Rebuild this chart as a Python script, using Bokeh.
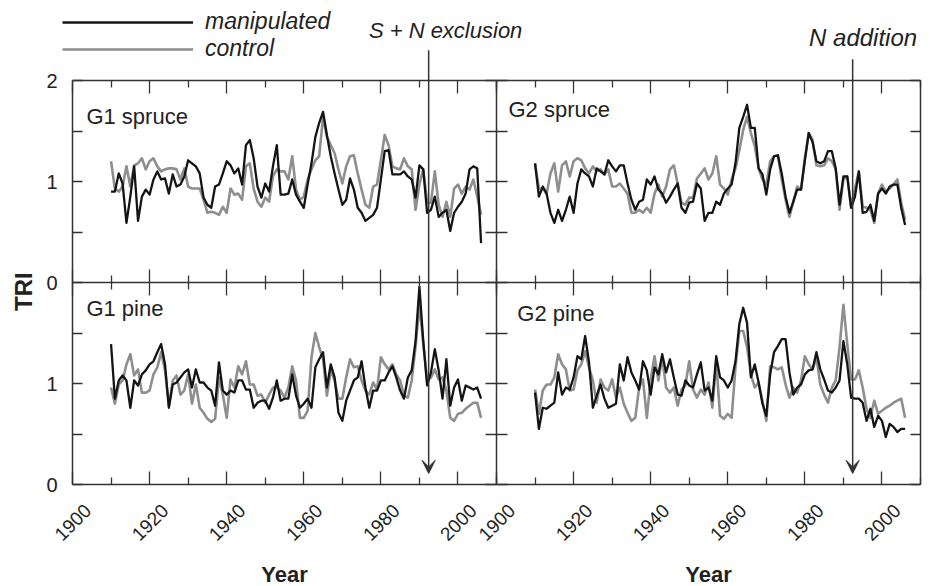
import math
from bokeh.plotting import figure
from bokeh.models import (Range1d, LinearAxis, FixedTicker, CustomJSTickFormatter, Label,
                          Arrow, VeeHead, Legend, LegendItem)
from bokeh.embed import file_html
from bokeh.resources import INLINE

# ---------------- data ----------------
years = list(range(1910, 2007))

g1_spruce_manip = [0.90, 0.90, 1.08, 0.98, 0.59, 0.85, 1.15, 0.61, 0.85, 0.92,
                   0.87, 1.02, 1.10, 1.02, 1.03, 0.88, 1.07, 0.95, 0.97, 1.05,
                   1.21, 1.18, 1.15, 1.08, 0.84, 0.77, 0.74, 0.95, 0.97, 1.08,
                   1.20, 1.16, 1.08, 1.13, 0.97, 1.36, 1.41, 1.23, 0.95, 0.84,
                   0.98, 0.90, 1.15, 1.36, 0.87, 0.87, 0.88, 1.02, 0.87, 0.80,
                   0.74, 0.97, 1.18, 1.44, 1.58, 1.69, 1.46, 1.25, 1.08, 0.92,
                   0.77, 0.82, 1.03, 0.92, 0.74, 0.69, 0.61, 0.64, 0.67, 0.74,
                   1.02, 1.30, 1.31, 1.07, 1.07, 1.07, 1.10, 1.05, 1.02, 0.84,
                   1.16, 1.12, 0.69, 0.72, 0.85, 0.65, 0.69, 0.72, 0.51, 0.69,
                   0.75, 0.80, 0.88, 1.12, 1.15, 1.13, 0.39]
g1_spruce_ctrl = [1.20, 0.93, 0.90, 0.95, 1.15, 0.95, 1.16, 1.18, 1.23, 1.12,
                  1.20, 1.23, 1.15, 1.10, 1.12, 1.13, 1.13, 1.12, 1.02, 1.13,
                  0.95, 0.93, 0.93, 0.93, 0.82, 0.69, 0.70, 0.69, 0.67, 0.75,
                  0.69, 0.93, 0.87, 0.88, 0.82, 1.15, 1.18, 0.93, 0.80, 0.75,
                  0.84, 0.80, 1.05, 1.12, 1.10, 1.10, 1.02, 1.25, 0.92, 0.82,
                  0.85, 1.02, 1.12, 1.21, 1.25, 1.64, 1.44, 1.36, 1.28, 1.12,
                  0.98, 1.15, 1.25, 1.26, 1.08, 0.92, 0.77, 0.74, 0.95, 0.97,
                  1.21, 1.46, 1.36, 1.15, 1.13, 1.12, 1.23, 1.15, 1.12, 0.72,
                  0.97, 1.12, 0.79, 0.79, 1.10, 0.77, 0.65, 0.80, 0.65, 0.93,
                  0.97, 0.88, 0.95, 0.92, 1.02, 0.85, 0.67]
g2_spruce_manip = [1.18, 0.85, 0.95, 0.88, 0.69, 0.59, 0.72, 0.61, 0.72, 0.85,
                   0.69, 0.98, 1.12, 1.08, 1.05, 0.95, 1.13, 1.10, 1.07, 1.21,
                   1.15, 1.10, 1.16, 1.16, 0.98, 0.82, 0.72, 0.80, 0.82, 1.02,
                   0.97, 1.05, 0.92, 0.88, 0.79, 0.85, 0.92, 0.98, 0.74, 0.69,
                   0.79, 0.80, 0.98, 0.93, 0.61, 0.69, 0.69, 0.80, 0.77, 0.88,
                   0.93, 0.97, 1.18, 1.53, 1.64, 1.76, 1.53, 1.53, 1.13, 1.07,
                   0.87, 1.12, 1.25, 1.26, 1.08, 0.85, 0.69, 0.80, 0.92, 0.92,
                   1.21, 1.48, 1.39, 1.20, 1.18, 1.20, 1.30, 1.30, 1.13, 0.77,
                   1.05, 1.05, 0.74, 0.85, 1.10, 0.69, 0.70, 0.77, 0.61, 0.88,
                   0.93, 0.88, 0.95, 0.97, 0.97, 0.74, 0.57]
g2_spruce_ctrl = [1.18, 0.93, 0.93, 0.88, 1.08, 1.18, 0.90, 1.16, 1.20, 1.05,
                  1.20, 1.23, 1.21, 1.13, 1.08, 1.15, 1.10, 1.12, 1.07, 1.12,
                  0.95, 0.95, 0.98, 0.93, 0.88, 0.69, 0.69, 0.72, 0.69, 0.74,
                  0.69, 0.88, 0.97, 0.85, 0.95, 1.12, 1.16, 0.98, 0.79, 0.77,
                  0.84, 0.84, 1.03, 1.08, 1.13, 1.02, 1.08, 1.25, 0.97, 0.93,
                  0.87, 1.02, 1.13, 1.31, 1.51, 1.64, 1.48, 1.35, 1.13, 1.02,
                  0.97, 1.20, 1.25, 1.26, 1.02, 0.82, 0.65, 0.80, 0.95, 0.92,
                  1.23, 1.48, 1.41, 1.16, 1.15, 1.16, 1.23, 1.20, 1.12, 0.72,
                  1.02, 1.05, 0.75, 0.93, 1.10, 0.75, 0.74, 0.72, 0.59, 0.88,
                  0.97, 0.90, 0.93, 0.97, 1.02, 0.79, 0.62]
g1_pine_manip = [1.39, 0.85, 1.03, 1.08, 1.03, 0.76, 1.03, 0.98, 1.09, 1.13,
                 1.19, 1.22, 1.31, 1.39, 1.19, 0.76, 0.99, 1.01, 1.06, 1.11,
                 1.14, 0.96, 1.14, 1.01, 1.01, 0.96, 0.93, 0.78, 1.21, 0.93,
                 0.89, 0.93, 0.91, 1.03, 1.03, 0.94, 0.94, 0.76, 0.81, 0.83,
                 0.83, 0.75, 0.86, 1.03, 0.83, 0.85, 0.85, 1.09, 0.88, 0.76,
                 0.80, 0.85, 0.76, 1.16, 1.24, 1.31, 0.96, 1.19, 1.06, 0.71,
                 0.63, 0.83, 0.93, 1.03, 1.06, 1.22, 0.96, 0.76, 0.93, 0.93,
                 1.03, 1.03, 1.11, 1.17, 1.06, 0.93, 0.85, 1.06, 1.13, 1.42,
                 1.96, 1.42, 0.98, 1.11, 1.34, 1.13, 0.85, 1.24, 0.78, 0.96,
                 1.04, 0.83, 0.98, 0.96, 0.94, 0.96, 0.85]
g1_pine_ctrl = [0.96, 0.80, 0.99, 1.03, 1.19, 1.29, 1.08, 1.14, 0.91, 0.91,
                0.93, 1.09, 1.16, 1.31, 1.13, 0.78, 1.03, 1.08, 0.89, 0.93,
                1.09, 0.80, 0.99, 0.76, 0.71, 0.65, 0.62, 0.65, 1.06, 0.89,
                0.66, 1.04, 0.96, 1.17, 1.09, 1.22, 0.99, 0.99, 0.88, 0.89,
                0.81, 0.89, 0.96, 0.96, 0.93, 0.86, 0.96, 1.17, 1.03, 0.66,
                0.66, 0.73, 1.26, 1.50, 1.36, 1.24, 0.88, 1.13, 1.03, 0.85,
                0.85, 1.06, 1.24, 1.16, 1.17, 1.03, 0.93, 0.89, 1.01, 0.94,
                1.26, 1.19, 1.14, 1.19, 1.09, 1.03, 0.88, 0.86, 1.03, 1.36,
                1.78, 1.40, 1.03, 1.06, 1.14, 1.04, 1.06, 0.93, 0.66, 0.63,
                0.70, 0.71, 0.75, 0.78, 0.81, 0.81, 0.66]
g2_pine_manip = [0.91, 0.55, 0.76, 0.75, 0.78, 0.81, 1.11, 0.89, 0.96, 0.94,
                 1.06, 1.27, 1.24, 1.47, 1.21, 0.76, 0.88, 0.99, 0.85, 0.76,
                 0.78, 0.80, 1.19, 1.03, 1.26, 1.11, 1.03, 0.94, 1.22, 1.13,
                 0.89, 1.16, 1.09, 1.29, 1.11, 1.24, 1.06, 0.89, 0.88, 1.03,
                 0.98, 0.96, 1.09, 1.21, 0.93, 0.96, 0.83, 1.27, 1.06, 1.03,
                 0.96, 1.03, 1.22, 1.59, 1.75, 1.60, 1.06, 1.19, 1.01, 0.80,
                 0.68, 1.09, 1.31, 1.37, 1.44, 1.44, 1.11, 0.89, 0.96, 0.99,
                 1.09, 1.13, 1.14, 1.31, 1.14, 1.04, 0.93, 0.91, 0.96, 1.03,
                 1.42, 1.19, 0.86, 0.85, 0.85, 0.81, 0.63, 0.75, 0.57, 0.68,
                 0.63, 0.47, 0.60, 0.57, 0.52, 0.55, 0.55]
g2_pine_ctrl = [0.94, 0.70, 0.93, 0.99, 0.99, 1.06, 1.29, 1.19, 1.14, 0.93,
                0.94, 1.13, 1.19, 1.32, 1.16, 1.03, 0.81, 1.04, 0.96, 0.93,
                1.04, 0.86, 0.96, 0.80, 0.71, 0.63, 0.66, 0.96, 1.04, 0.66,
                1.04, 1.27, 1.03, 1.26, 0.96, 0.91, 0.96, 0.78, 0.94, 0.98,
                1.22, 0.94, 0.86, 0.94, 0.89, 1.01, 0.76, 1.22, 0.68, 0.65,
                0.70, 0.66, 1.16, 1.52, 1.52, 1.36, 1.09, 0.96, 1.01, 0.83,
                0.63, 1.17, 1.16, 1.14, 1.16, 0.99, 0.86, 0.96, 0.91, 1.03,
                1.27, 1.19, 1.14, 1.26, 0.99, 0.89, 0.81, 0.96, 1.03, 1.36,
                1.78, 1.39, 1.04, 1.04, 1.13, 0.96, 0.75, 0.66, 0.83, 0.70,
                0.73, 0.76, 0.78, 0.81, 0.83, 0.85, 0.66]

panel_names = ["G1 spruce", "G2 spruce", "G1 pine", "G2 pine"]
series_names = ["manipulated", "control"]
treatment_names = ["S + N exclusion", "N addition"]
treatment_years = [1992.4, 1992.4]

x_major_ticks = [1900, 1920, 1940, 1960, 1980, 2000]
x_minor_ticks = [1910, 1930, 1950, 1970, 1990, 2010]
x_tick_labels = ["1900", "1920", "1940", "1960", "1980", "2000"]
y_ticks_top = [0, 1, 2]
y_ticks_bottom = [0, 1]
y_minor_ticks = [0.5, 1.5]

# ---------------- layout / style ----------------
FONT = "Liberation Sans"
INK = "#222222"
FRAME = "#333333"
C_MANIP = "#141414"
C_CTRL = "#8e8e8e"
W, H = 930, 586
YEAR_MIN, YEAR_MAX = 1900, 2010
TRI_MIN, TRI_MAX = 0, 2
PX_LEFT, PX_MID, PX_RIGHT = 72, 496, 920      # panel column edges (px)
PX_ZERO, PX_PER_TRI = 484, 101.0              # bottom panel baseline, px per TRI unit
PX_PER_YEAR = (PX_MID - PX_LEFT) / (YEAR_MAX - YEAR_MIN)
LABEL_SHIFT = 4  # years: rotated tick labels sit a bit right of their tick

x0_left = YEAR_MIN - PX_LEFT / PX_PER_YEAR
x0_right = YEAR_MIN - PX_MID / PX_PER_YEAR
y0 = -(H - PX_ZERO) / PX_PER_TRI
x_span = W / PX_PER_YEAR
y_span = H / PX_PER_TRI

p = figure(width=W, height=H,
           x_range=Range1d(x0_left, x0_left + x_span),
           y_range=Range1d(y0, y0 + y_span),
           x_axis_location=None, y_axis_location=None,
           toolbar_location=None, tools="", output_backend="svg",
           min_border_left=0, min_border_right=0, min_border_top=0, min_border_bottom=0)
p.extra_x_ranges = {"right": Range1d(x0_right, x0_right + x_span)}
p.extra_y_ranges = {"top": Range1d(y0 - TRI_MAX, y0 - TRI_MAX + y_span)}
p.outline_line_color = None
p.background_fill_color = "white"
p.border_fill_color = "white"
p.xgrid.visible = False
p.ygrid.visible = False

EMPTY = "return ''"


def add_axis(side, ticks, minor, bounds, xr="default", yr="default", loc=0.0,
             tin=12, tout=0, min_in=6, min_out=0, show_labels=False, standoff=15):
    ax = LinearAxis(ticker=FixedTicker(ticks=ticks, minor_ticks=minor),
                    x_range_name=xr, y_range_name=yr, fixed_location=loc, bounds=bounds)
    ax.major_tick_in = tin
    ax.major_tick_out = tout
    ax.minor_tick_in = min_in
    ax.minor_tick_out = min_out
    ax.major_tick_line_color = FRAME
    ax.minor_tick_line_color = FRAME
    ax.major_tick_line_width = 1.3
    ax.minor_tick_line_width = 1.3
    ax.axis_line_color = FRAME
    ax.axis_line_width = 1.5
    ax.major_label_standoff = standoff
    ax.major_label_text_font = FONT
    ax.major_label_text_font_size = "20px"
    ax.major_label_text_color = INK
    if not show_labels:
        ax.formatter = CustomJSTickFormatter(code=EMPTY)
    p.add_layout(ax, side)
    return ax


xb = (YEAR_MIN, YEAR_MAX)
yb = (TRI_MIN, TRI_MAX)
# horizontal tick rows: bottom, middle, top (both columns)
for xr in ["default", "right"]:
    add_axis("below", x_major_ticks, x_minor_ticks, xb, xr=xr, loc=TRI_MIN, tin=13, min_in=7)
    add_axis("below", x_major_ticks, x_minor_ticks, xb, xr=xr, loc=TRI_MAX, tin=13, tout=13,
             min_in=7, min_out=7)
    add_axis("above", x_major_ticks, x_minor_ticks, xb, xr=xr, yr="top", loc=TRI_MAX,
             tin=13, min_in=7)
    # rotated year labels
    lab = LinearAxis(ticker=FixedTicker(ticks=[t + LABEL_SHIFT for t in x_major_ticks], minor_ticks=[]),
                     x_range_name=xr, fixed_location=TRI_MIN)
    lab.major_label_overrides = {t + LABEL_SHIFT: s for t, s in zip(x_major_ticks, x_tick_labels)}
    lab.major_label_orientation = math.pi / 4
    lab.major_tick_line_color = None
    lab.minor_tick_line_color = None
    lab.axis_line_color = None
    lab.major_label_standoff = 17
    lab.major_label_text_font = FONT
    lab.major_label_text_font_size = "19px"
    lab.major_label_text_color = INK
    p.add_layout(lab, "below")

# vertical tick columns: left (labelled), middle, right
for yr, ticks in [("default", y_ticks_bottom), ("top", y_ticks_top)]:
    add_axis("left", ticks, y_minor_ticks, yb, yr=yr, loc=YEAR_MIN, tin=10, min_in=10,
             show_labels=True, standoff=15)
    add_axis("left", ticks, y_minor_ticks, yb, yr=yr, loc=YEAR_MAX, tin=11, tout=11,
             min_in=11, min_out=11)
    add_axis("right", ticks, y_minor_ticks, yb, xr="right", yr=yr, loc=YEAR_MAX, tin=10, min_in=10)

# ---------------- series ----------------
panels = [
    ("default", "top", g1_spruce_manip, g1_spruce_ctrl),
    ("right", "top", g2_spruce_manip, g2_spruce_ctrl),
    ("default", "default", g1_pine_manip, g1_pine_ctrl),
    ("right", "default", g2_pine_manip, g2_pine_ctrl),
]
legend_renderers = []
for xr, yr, manip, ctrl in panels:
    rc = p.line(years, ctrl, x_range_name=xr, y_range_name=yr, line_color=C_CTRL,
                line_width=2.6, line_join="round")
    rm = p.line(years, manip, x_range_name=xr, y_range_name=yr, line_color=C_MANIP,
                line_width=2.3, line_join="round")
    if not legend_renderers:
        legend_renderers = [rm, rc]

legend = Legend(items=[LegendItem(label=series_names[0], renderers=[legend_renderers[0]]),
                       LegendItem(label=series_names[1], renderers=[legend_renderers[1]])],
                location=(62, 524), glyph_width=131, glyph_height=20, label_height=20,
                label_standoff=12, spacing=0, padding=0, margin=0,
                border_line_color=None, background_fill_alpha=0,
                label_text_font=FONT, label_text_font_style="italic",
                label_text_font_size="23px", label_text_color=INK)
p.add_layout(legend)

# ---------------- panel names ----------------
name_pos = [("default", "top", 1903.6, 1.644), ("right", "top", 1903.1, 1.713),
            ("default", "default", 1903.6, 1.743), ("right", "default", 1905.4, 1.693)]
for name, (xr, yr, x, y) in zip(panel_names, name_pos):
    p.add_layout(Label(x=x, y=y, x_range_name=xr, y_range_name=yr, text=name,
                       text_font=FONT, text_font_size="22px", text_color=INK,
                       text_align="left", text_baseline="middle"))

# ---------------- treatment arrows ----------------
arrow_specs = [("default", 2.30, -1.89, 1996.8, 2.500, "22px"),
               ("right", 2.21, -1.89, 1995.1, 2.421, "24px")]
for name, yr_evt, (xr, ys, ye, tx, ty, fs) in zip(treatment_names, treatment_years, arrow_specs):
    p.add_layout(Arrow(x_start=yr_evt, y_start=ys, x_end=yr_evt, y_end=ye,
                       x_range_name=xr, y_range_name="top",
                       line_color=FRAME, line_width=1.5,
                       end=VeeHead(size=13, fill_color=FRAME, line_color=FRAME, line_width=1)))
    p.add_layout(Label(x=tx, y=ty, x_range_name=xr, y_range_name="top", text=name,
                       text_font=FONT, text_font_size=fs, text_font_style="italic",
                       text_color=INK, text_align="center", text_baseline="middle"))

# ---------------- axis titles ----------------
p.add_layout(Label(x=1887.2, y=1.91, text="TRI", angle=math.pi / 2, text_font=FONT,
                   text_font_size="24px", text_font_style="bold", text_color=INK,
                   text_align="center", text_baseline="middle"))
for xr in ["default", "right"]:
    p.add_layout(Label(x=(YEAR_MIN + YEAR_MAX) / 2, y=-0.891, x_range_name=xr, text="Year",
                       text_font=FONT, text_font_size="22px", text_font_style="bold",
                       text_color=INK, text_align="center", text_baseline="middle"))

open("out.html", "w").write(file_html(p, INLINE))
